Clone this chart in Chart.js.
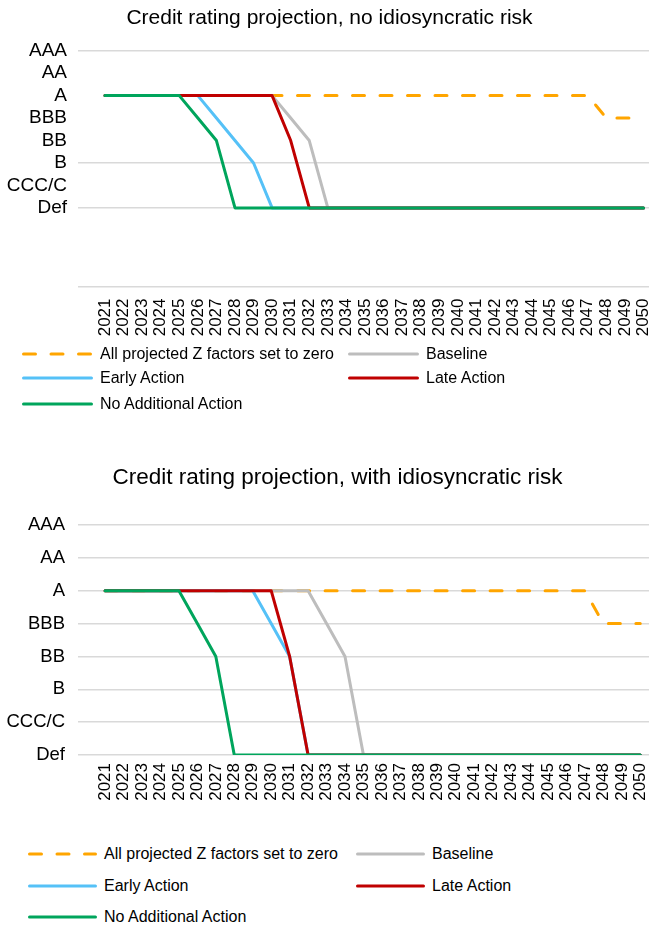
<!DOCTYPE html>
<html>
<head>
<meta charset="utf-8">
<script src="https://cdn.jsdelivr.net/npm/chart.js@4/dist/chart.umd.min.js"></script>
<style>
  html, body { margin: 0; padding: 0; background: #fff; width: 649px; height: 928px; overflow: hidden; }
  body { position: relative; font-family: "Liberation Sans", Arial, sans-serif; color: #000; }
  .chart { position: absolute; left: 0; width: 649px; }
  .legend-item { position: absolute; height: 20px; display: flex; align-items: center; white-space: nowrap; font-size: 16px; }
  .legend-item svg { display: block; margin-right: 7px; }
</style>
</head>
<body>
<div class="chart" style="top:0;height:345px"><canvas id="chartNoIdio"></canvas></div>
<div id="legendNoIdio"></div>
<div class="chart" style="top:450px;height:355px"><canvas id="chartIdio"></canvas></div>
<div id="legendIdio"></div>

<script>
// Projection years (x axis)
const years = [2021, 2022, 2023, 2024, 2025, 2026, 2027, 2028, 2029, 2030,
               2031, 2032, 2033, 2034, 2035, 2036, 2037, 2038, 2039, 2040,
               2041, 2042, 2043, 2044, 2045, 2046, 2047, 2048, 2049, 2050];

// Rating scale: index = numeric level on the y axis
const ratingLabels = ['Def', 'CCC/C', 'B', 'BB', 'BBB', 'A', 'AA', 'AAA'];

const seriesNames = ['All projected Z factors set to zero', 'Baseline', 'Early Action', 'Late Action', 'No Additional Action'];

// Rating path without idiosyncratic risk (level per year)
const zeroZNoIdio     = [5,5,5,5,5,5,5,5,5,5, 5,5,5,5,5,5,5,5,5,5, 5,5,5,5,5,5,5,4,4,4];
const baselineNoIdio  = [5,5,5,5,5,5,5,5,5,5, 4,3,0,0,0,0,0,0,0,0, 0,0,0,0,0,0,0,0,0,0];
const earlyNoIdio     = [5,5,5,5,5,5,4,3,2,0, 0,0,0,0,0,0,0,0,0,0, 0,0,0,0,0,0,0,0,0,0];
const lateNoIdio      = [5,5,5,5,5,5,5,5,5,5, 3,0,0,0,0,0,0,0,0,0, 0,0,0,0,0,0,0,0,0,0];
const noActionNoIdio  = [5,5,5,5,5,4,3,0,0,0, 0,0,0,0,0,0,0,0,0,0, 0,0,0,0,0,0,0,0,0,0];

// Rating path with idiosyncratic risk (level per year)
const zeroZIdio       = [5,5,5,5,5,5,5,5,5,5, 5,5,5,5,5,5,5,5,5,5, 5,5,5,5,5,5,5,4,4,4];
const baselineIdio    = [5,5,5,5,5,5,5,5,5,5, 5,5,4,3,0,0,0,0,0,0, 0,0,0,0,0,0,0,0,0,0];
const earlyIdio       = [5,5,5,5,5,5,5,5,5,4, 3,0,0,0,0,0,0,0,0,0, 0,0,0,0,0,0,0,0,0,0];
const lateIdio        = [5,5,5,5,5,5,5,5,5,5, 3,0,0,0,0,0,0,0,0,0, 0,0,0,0,0,0,0,0,0,0];
const noActionIdio    = [5,5,5,5,5,4,3,0,0,0, 0,0,0,0,0,0,0,0,0,0, 0,0,0,0,0,0,0,0,0,0];

// Series styling, in legend order
const seriesStyles = [
  { color: '#FFA500', dash: [12, 15.5], order: 5 },
  { color: '#BDBDBD', dash: [],         order: 4 },
  { color: '#55C1F7', dash: [],         order: 3 },
  { color: '#C00000', dash: [],         order: 2 },
  { color: '#00A55C', dash: [],         order: 1 }
];

const FONT = '"Liberation Sans", Arial, sans-serif';
const GRID = '#D9D9D9';
const PLOT_LEFT = 78;

// Nudges the title block sideways so it sits over the plot rather than the canvas centre
const titleShift = {
  id: 'titleShift',
  afterLayout(chart, args, opts) {
    const t = chart.titleBlock;
    if (t && opts.dx) { t.left += opts.dx; t.right += opts.dx; }
  }
};

function buildDatasets(seriesValues) {
  return seriesValues.map((values, s) => ({
    label: seriesNames[s],
    data: values.map((v, i) => ({ x: years[i], y: v })),
    borderColor: seriesStyles[s].color,
    backgroundColor: seriesStyles[s].color,
    borderWidth: 3,
    borderDash: seriesStyles[s].dash,
    borderCapStyle: 'round',
    borderJoinStyle: 'round',
    pointRadius: 0,
    tension: 0,
    fill: false,
    order: seriesStyles[s].order
  }));
}

function buildChart(canvasId, cfg) {
  return new Chart(document.getElementById(canvasId), {
    type: 'line',
    data: { datasets: buildDatasets(cfg.series) },
    plugins: [titleShift],
    options: {
      responsive: true,
      maintainAspectRatio: false,
      animation: false,
      layout: { padding: 0 },
      plugins: {
        legend: { display: false },
        tooltip: { enabled: false },
        titleShift: { dx: cfg.titleDx },
        title: {
          display: true,
          text: cfg.title,
          color: '#000',
          font: { family: FONT, size: cfg.titleSize, weight: 'normal', lineHeight: 1.2 },
          padding: cfg.titlePadding
        }
      },
      scales: {
        x: {
          type: 'linear',
          min: cfg.xMin,
          max: cfg.xMax,
          grid: { display: false, drawTicks: false },
          border: { display: false },
          afterBuildTicks: (scale) => { scale.ticks = years.map(v => ({ value: v })); },
          afterFit: (scale) => {
            scale.height = cfg.xAxisHeight;
            scale.paddingLeft = 0;
            scale.paddingRight = 0;
          },
          ticks: {
            autoSkip: false,
            minRotation: 90,
            maxRotation: 90,
            padding: cfg.xTickPad,
            color: '#000',
            font: { family: FONT, size: cfg.xTickSize },
            callback: (v) => String(v)
          }
        },
        y: {
          type: 'linear',
          min: cfg.yMin,
          max: ratingLabels.length - 1,
          grid: {
            drawTicks: false,
            lineWidth: 1.5,
            color: (ctx) => cfg.gridLevels.includes(ctx.tick.value) ? GRID : 'rgba(0,0,0,0)'
          },
          border: { display: false },
          afterBuildTicks: (scale) => {
            const t = ratingLabels.map((_, i) => ({ value: i }));
            if (cfg.yMin < 0) t.unshift({ value: cfg.yMin });
            scale.ticks = t;
          },
          afterFit: (scale) => {
            scale.width = PLOT_LEFT;
            scale.paddingTop = 0;
            scale.paddingBottom = 0;
          },
          ticks: {
            padding: cfg.yTickPad,
            color: '#000',
            font: { family: FONT, size: cfg.yTickSize },
            callback: (v) => (Number.isInteger(v) && v >= 0 ? ratingLabels[v] : '')
          }
        }
      }
    }
  });
}

function buildLegend(containerId, cfg) {
  const box = document.getElementById(containerId);
  seriesNames.forEach((name, s) => {
    const row = Math.floor(s / 2), col = s % 2;
    const item = document.createElement('div');
    item.className = 'legend-item';
    item.style.left = cfg.colX[col] + 'px';
    item.style.top = (cfg.rowY[row] - 10) + 'px';
    const st = seriesStyles[s];
    const dash = st.dash.length ? `stroke-dasharray="${st.dash.join(' ')}"` : '';
    item.innerHTML =
      `<svg width="${cfg.lineLen}" height="6"><line x1="1.5" y1="3" x2="${cfg.lineLen - 1.5}" y2="3" stroke="${st.color}" stroke-width="3" stroke-linecap="round" ${dash}/></svg><span>${name}</span>`;
    box.appendChild(item);
  });
}

buildChart('chartNoIdio', {
  series: [zeroZNoIdio, baselineNoIdio, earlyNoIdio, lateNoIdio, noActionNoIdio],
  title: 'Credit rating projection, no idiosyncratic risk',
  titleSize: 21,
  titlePadding: { top: 5.5, bottom: 20 },
  titleDx: 5,
  xMin: 2019.546, xMax: 2050.296,
  yMin: -3.5,
  gridLevels: [-3.5, 0, 2, 7],
  xAxisHeight: 58.5, xTickPad: 12, xTickSize: 17,
  yTickPad: 11, yTickSize: 19
});

buildChart('chartIdio', {
  series: [zeroZIdio, baselineIdio, earlyIdio, lateIdio, noActionIdio],
  title: 'Credit rating projection, with idiosyncratic risk',
  titleSize: 22.5,
  titlePadding: { top: 14.5, bottom: 33.5 },
  titleDx: 13,
  xMin: 2019.532, xMax: 2050.473,
  yMin: 0,
  gridLevels: [0, 1, 2, 3, 4, 5, 6, 7],
  xAxisHeight: 50, xTickPad: 8, xTickSize: 17,
  yTickPad: 13, yTickSize: 18.5
});

buildLegend('legendNoIdio', { colX: [22, 348], rowY: [354, 378, 404], lineLen: 71 });
buildLegend('legendIdio', { colX: [28, 356], rowY: [854, 886, 917], lineLen: 69 });
</script>
</body>
</html>
